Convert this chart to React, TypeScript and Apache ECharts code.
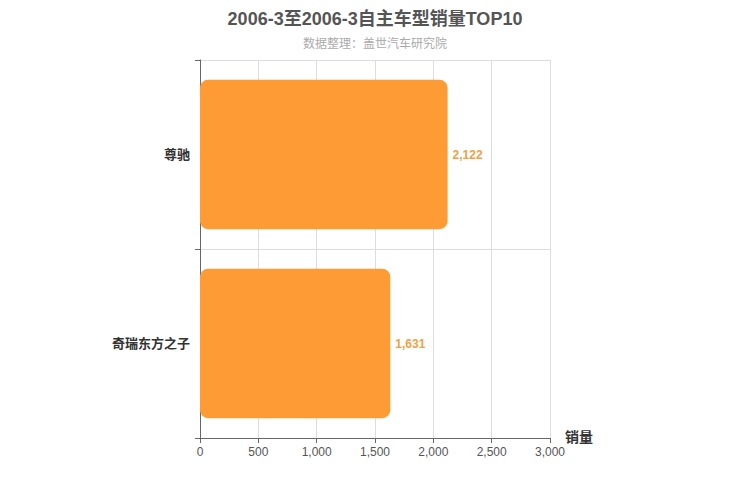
import React, { useEffect, useRef } from 'react';
import * as echarts from 'echarts';

const categories = ['尊驰', '奇瑞东方之子'];
const sales = [2122, 1631];
const xTicks = [0, 500, 1000, 1500, 2000, 2500, 3000];

const FONT = 'Arial, "Liberation Sans", "Noto Sans CJK SC", sans-serif';

export default function App() {
  const chartRef = useRef<HTMLDivElement>(null);

  useEffect(() => {
    if (!chartRef.current) return;
    const chart = echarts.init(chartRef.current, undefined, { renderer: 'svg' });

    const option: echarts.EChartsOption = {
      animation: false,
      backgroundColor: '#fff',
      textStyle: { fontFamily: FONT },
      title: {
        text: '2006-3至2006-3自主车型销量TOP10',
        subtext: '数据整理：盖世汽车研究院',
        left: 'center',
        top: 5,
        itemGap: 10,
        textStyle: { fontSize: 18, fontWeight: 'bold', color: '#555', fontFamily: FONT },
        subtextStyle: { fontSize: 12, color: '#aaa', fontFamily: FONT },
      },
      grid: { left: 200, right: 200, top: 60, bottom: 62 },
      xAxis: {
        type: 'value',
        min: xTicks[0],
        max: xTicks[xTicks.length - 1],
        interval: 500,
        name: '销量',
        nameLocation: 'end',
        nameGap: 15,
        nameTextStyle: { fontSize: 14, fontWeight: 'bold', color: '#333', verticalAlign: 'top', padding: [-8, 0, 0, 0] },
        axisLine: { show: true, lineStyle: { color: '#666' } },
        axisTick: { show: true, lineStyle: { color: '#666' } },
        axisLabel: { color: '#555', fontSize: 12, margin: 8 },
        splitLine: { show: true, lineStyle: { color: '#ddd' } },
      },
      yAxis: {
        type: 'category',
        data: categories,
        inverse: true,
        axisLine: { show: true, lineStyle: { color: '#666' } },
        axisTick: { show: true, length: 5, lineStyle: { color: '#666' } },
        axisLabel: { color: '#333', fontSize: 13, fontWeight: 'bold', margin: 10 },
        splitLine: { show: true, lineStyle: { color: '#ddd' } },
      },
      series: [
        {
          type: 'bar',
          data: sales,
          barCategoryGap: '21%',
          itemStyle: { color: '#ff9b34', borderRadius: 8 },
          label: {
            show: true,
            position: 'right',
            color: '#f2a043',
            fontSize: 12,
            fontWeight: 'bold',
            formatter: (p: any) => Number(p.value).toLocaleString('en-US'),
          },
        },
      ],
    };

    chart.setOption(option);
    return () => chart.dispose();
  }, []);

  return (
    <div
      ref={chartRef}
      style={{ position: 'fixed', left: 0, top: 0, width: 750, height: 500 }}
    />
  );
}
